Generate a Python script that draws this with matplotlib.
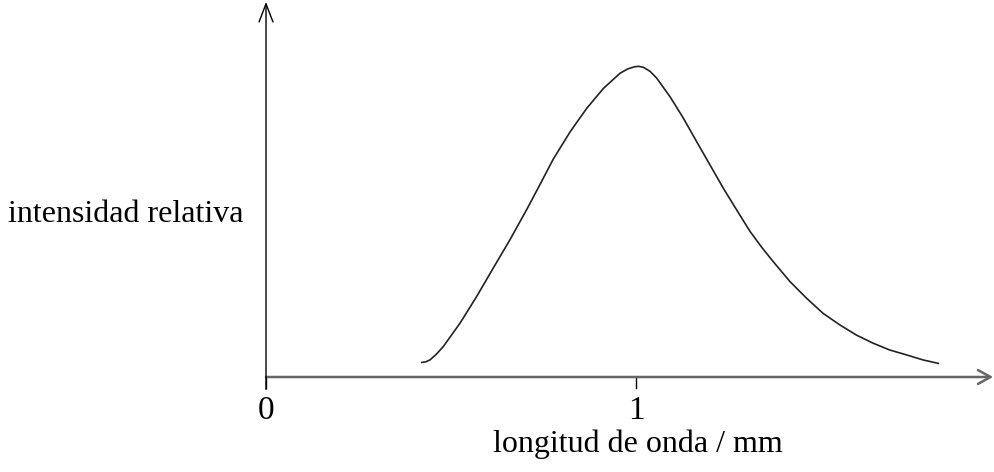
import matplotlib.pyplot as plt

# curve (wavelength in mm, relative intensity with peak = 1)
longitud = [0.421, 0.432, 0.443, 0.460, 0.479, 0.524, 0.569, 0.614, 0.659, 0.705,
            0.741, 0.776, 0.822, 0.867, 0.912, 0.957, 0.978, 0.997, 1.008, 1.020,
            1.038, 1.056, 1.092, 1.128, 1.164, 1.200, 1.236, 1.272, 1.308, 1.340,
            1.371, 1.416, 1.461, 1.506, 1.551, 1.596, 1.641, 1.686, 1.732, 1.776,
            1.817]
intensidad = [0.047, 0.049, 0.055, 0.073, 0.098, 0.173, 0.259, 0.351, 0.442, 0.541,
              0.622, 0.702, 0.791, 0.867, 0.931, 0.980, 0.994, 1.001, 1.002, 0.999,
              0.986, 0.964, 0.904, 0.835, 0.759, 0.684, 0.609, 0.539, 0.470, 0.418,
              0.372, 0.308, 0.254, 0.205, 0.168, 0.135, 0.109, 0.087, 0.071, 0.055,
              0.044]
ticks = [0, 1]
tick_labels = ["0", "1"]

plt.rcParams['font.family'] = ['Liberation Serif', 'DejaVu Serif']

fig = plt.figure(figsize=(9.94, 4.72), dpi=100)
ax = fig.add_axes([0, 0, 1, 1])
ax.set_xlim(-266 / 370, 728 / 370)
ax.set_ylim(-95 / 310, 377 / 310)
ax.axis("off")

ax.plot(longitud, intensidad, color="#222222", lw=1.2,
        solid_joinstyle="round", antialiased=True)

# axes with open arrow heads
ax.annotate("", xy=(1.965, 0), xytext=(0, 0),
            arrowprops=dict(arrowstyle="->, head_length=0.9, head_width=0.5",
                            color="#666666", lw=1.8, shrinkA=0, shrinkB=0,
                            mutation_scale=10))
ax.annotate("", xy=(0, 1.21), xytext=(0, -0.04),
            arrowprops=dict(arrowstyle="->, head_length=1.3, head_width=0.5",
                            color="black", lw=1.0, shrinkA=0, shrinkB=0,
                            mutation_scale=10))

for t, lab in zip(ticks, tick_labels):
    ax.plot([t, t], [0, -0.037], color="black", lw=1.0)
    ax.text(t, -0.11, lab, ha="center", va="center", fontsize=24)

ax.text(1.004, -0.242, "longitud de onda / mm",
        ha="center", va="baseline", fontsize=23)
ax.text(-0.06, 0.50, "intensidad relativa", ha="right", va="baseline", fontsize=23)

fig.savefig("out.png", dpi=100)
